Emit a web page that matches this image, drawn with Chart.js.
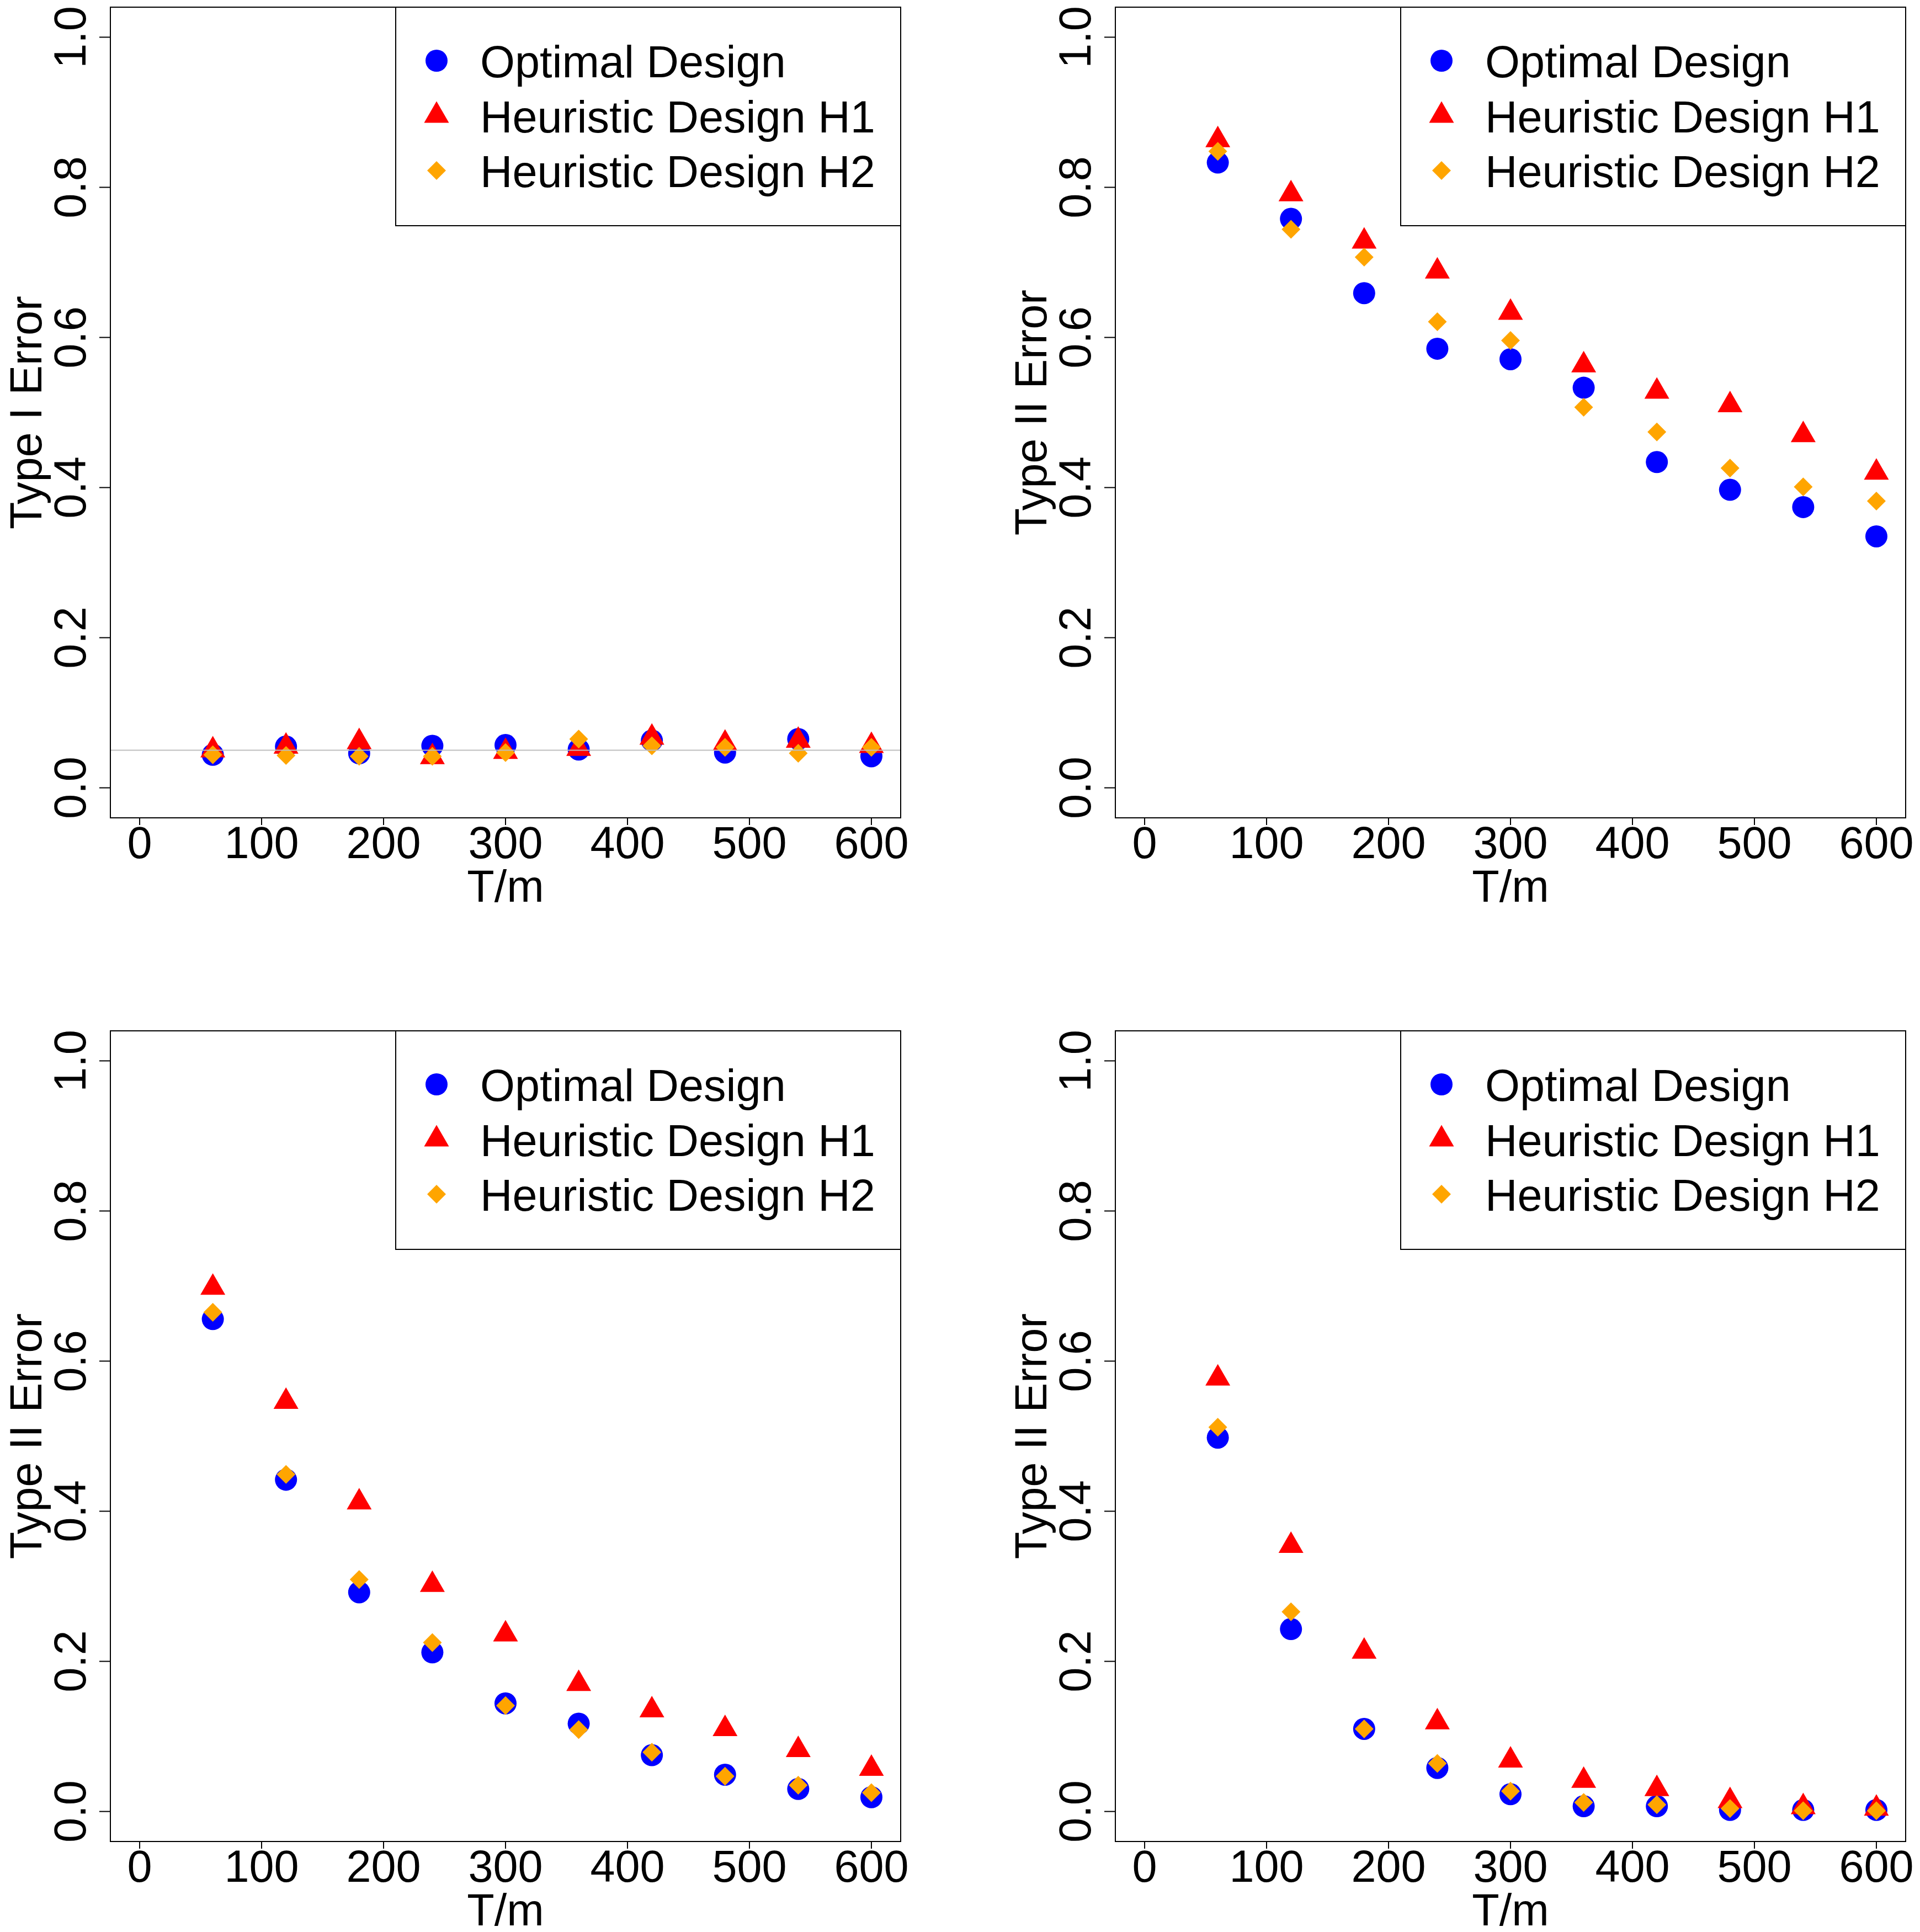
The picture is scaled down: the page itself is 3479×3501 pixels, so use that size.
<!DOCTYPE html>
<html>
<head>
<meta charset="utf-8">
<script src="https://cdn.jsdelivr.net/npm/chart.js@4/dist/chart.umd.min.js"></script>
<style>
  html, body { margin:0; padding:0; background:#fff; overflow:hidden; }
  body { width:3479px; height:3501px; position:relative; }
  canvas { position:absolute; }
  #c1 { left:0; top:0; }
  #c2 { left:1821px; top:0; }
  #c3 { left:0; top:1855px; }
  #c4 { left:1821px; top:1855px; }
</style>
</head>
<body>
<canvas id="c1" width="1650" height="1646"></canvas>
<canvas id="c2" width="1650" height="1646"></canvas>
<canvas id="c3" width="1650" height="1646"></canvas>
<canvas id="c4" width="1650" height="1646"></canvas>
<script>
// ---------- data ----------
const xVals = [60, 120, 180, 240, 300, 360, 420, 480, 540, 600];
const xTicks = [0, 100, 200, 300, 400, 500, 600];
const yTicks = [0, 0.2, 0.4, 0.6, 0.8, 1.0];
const yTickLabels = ["0.0", "0.2", "0.4", "0.6", "0.8", "1.0"];
const seriesNames = ["Optimal Design", "Heuristic Design H1", "Heuristic Design H2"];

// panel 1: type I error
const p1Opt = [0.044, 0.055, 0.046, 0.056, 0.057, 0.051, 0.063, 0.047, 0.065, 0.042];
const p1H1  = [0.050, 0.055, 0.061, 0.041, 0.048, 0.052, 0.067, 0.059, 0.063, 0.056];
const p1H2  = [0.044, 0.043, 0.042, 0.042, 0.047, 0.065, 0.056, 0.054, 0.046, 0.054];
// panel 2: type II error
const p2Opt = [0.833, 0.758, 0.659, 0.585, 0.571, 0.533, 0.434, 0.397, 0.374, 0.335];
const p2H1  = [0.863, 0.791, 0.728, 0.688, 0.633, 0.563, 0.528, 0.510, 0.470, 0.420];
const p2H2  = [0.848, 0.744, 0.707, 0.621, 0.596, 0.507, 0.474, 0.426, 0.401, 0.382];
// panel 3: type II error
const p3Opt = [0.656, 0.442, 0.292, 0.212, 0.144, 0.117, 0.075, 0.049, 0.030, 0.019];
const p3H1  = [0.698, 0.546, 0.412, 0.302, 0.236, 0.170, 0.135, 0.110, 0.082, 0.057];
const p3H2  = [0.665, 0.449, 0.309, 0.225, 0.141, 0.109, 0.079, 0.047, 0.035, 0.025];
// panel 4: type II error
const p4Opt = [0.498, 0.243, 0.110, 0.058, 0.023, 0.007, 0.007, 0.002, 0.002, 0.002];
const p4H1  = [0.577, 0.354, 0.213, 0.119, 0.068, 0.041, 0.030, 0.014, 0.006, 0.004];
const p4H2  = [0.512, 0.266, 0.110, 0.064, 0.027, 0.012, 0.009, 0.004, 0.001, 0.001];

const FONT = '81px "Liberation Sans", Arial, sans-serif';
const marks = [
  { color: "#0000FF", style: "circle",   r: 20 },
  { color: "#FF0000", style: "triangle", r: 26 },
  { color: "#FFA500", style: "rectRot",  r: 17 }
];

// little helper for the legend symbols
function drawMark(ctx, m, x, y){
  ctx.fillStyle = m.color;
  ctx.beginPath();
  if (m.style === "circle") {
    ctx.arc(x, y, m.r, 0, Math.PI * 2);
  } else if (m.style === "triangle") {
    ctx.moveTo(x, y - m.r);
    ctx.lineTo(x + m.r * Math.sin(Math.PI / 3), y + m.r / 2);
    ctx.lineTo(x - m.r * Math.sin(Math.PI / 3), y + m.r / 2);
  } else {
    ctx.moveTo(x, y - m.r); ctx.lineTo(x + m.r, y);
    ctx.lineTo(x, y + m.r); ctx.lineTo(x - m.r, y);
  }
  ctx.closePath();
  ctx.fill();
}

// R-like axes, box, titles and legend
const rStyle = {
  id: "rStyle",
  afterDatasetsDraw(chart, args, opts){
    const ctx = chart.ctx, a = chart.chartArea;
    const xs = chart.scales.x, ys = chart.scales.y;
    ctx.save();
    if (opts.refLine != null) {
      const yy = ys.getPixelForValue(opts.refLine);
      ctx.strokeStyle = "#BEBEBE"; ctx.lineWidth = 2;
      ctx.beginPath(); ctx.moveTo(a.left, yy); ctx.lineTo(a.right, yy); ctx.stroke();
    }
    ctx.strokeStyle = "#000"; ctx.lineWidth = 2;
    ctx.strokeRect(a.left, a.top, a.right - a.left, a.bottom - a.top);

    ctx.fillStyle = "#000";
    ctx.font = FONT;
    // x axis
    ctx.textAlign = "center"; ctx.textBaseline = "alphabetic";
    xTicks.forEach(v => {
      const px = xs.getPixelForValue(v);
      ctx.beginPath(); ctx.moveTo(px, a.bottom); ctx.lineTo(px, a.bottom + 13); ctx.stroke();
      ctx.fillText(String(v), px, a.bottom + 73);
    });
    ctx.fillText("T/m", (a.left + a.right) / 2, a.bottom + 152);
    // y axis (labels parallel to axis)
    yTicks.forEach((v, i) => {
      const py = ys.getPixelForValue(v);
      ctx.beginPath(); ctx.moveTo(a.left - 20, py); ctx.lineTo(a.left, py); ctx.stroke();
      ctx.save();
      ctx.translate(a.left - 45, py); ctx.rotate(-Math.PI / 2);
      ctx.fillText(yTickLabels[i], 0, 0);
      ctx.restore();
    });
    ctx.save();
    ctx.translate(a.left - 125, (a.top + a.bottom) / 2); ctx.rotate(-Math.PI / 2);
    ctx.fillText(opts.yTitle, 0, 0);
    ctx.restore();

    // legend, top right inside the box
    const lx = a.left + 517, ly = a.top, lw = a.right - lx, lh = 396;
    ctx.fillStyle = "#fff"; ctx.fillRect(lx, ly, lw, lh);
    ctx.strokeRect(lx, ly, lw, lh);
    seriesNames.forEach((name, i) => {
      const cy = ly + 97 + i * 99.5;
      drawMark(ctx, marks[i], lx + 74, cy);
      ctx.fillStyle = "#000"; ctx.textAlign = "left";
      ctx.fillText(name, lx + 153, cy + 30);
    });
    ctx.restore();
  }
};

function makePanel(id, opt, h1, h2, yTitle, refLine){
  // higher order is drawn first, so the orange diamonds end up on top like in R
  const sets = [opt, h1, h2].map((arr, i) => ({
    label: seriesNames[i],
    data: xVals.map((x, j) => ({ x: x, y: arr[j] })),
    order: 3 - i,
    pointStyle: marks[i].style,
    pointRadius: marks[i].r,
    pointBackgroundColor: marks[i].color,
    pointBorderWidth: 0,
    showLine: false
  }));
  return new Chart(document.getElementById(id), {
    type: "scatter",
    data: { datasets: sets },
    options: {
      responsive: false, animation: false, devicePixelRatio: 1,
      layout: { autoPadding: false, padding: { left: 200, top: 13, right: 18, bottom: 164 } },
      scales: {
        x: { type: "linear", min: -24, max: 624, display: false },
        y: { type: "linear", min: -0.04, max: 1.04, display: false }
      },
      plugins: {
        legend: { display: false }, tooltip: { enabled: false },
        rStyle: { yTitle: yTitle, refLine: refLine }
      }
    },
    plugins: [rStyle]
  });
}

makePanel("c1", p1Opt, p1H1, p1H2, "Type I Error", 0.05);
makePanel("c2", p2Opt, p2H1, p2H2, "Type II Error", null);
makePanel("c3", p3Opt, p3H1, p3H2, "Type II Error", null);
makePanel("c4", p4Opt, p4H1, p4H2, "Type II Error", null);
</script>
</body>
</html>
